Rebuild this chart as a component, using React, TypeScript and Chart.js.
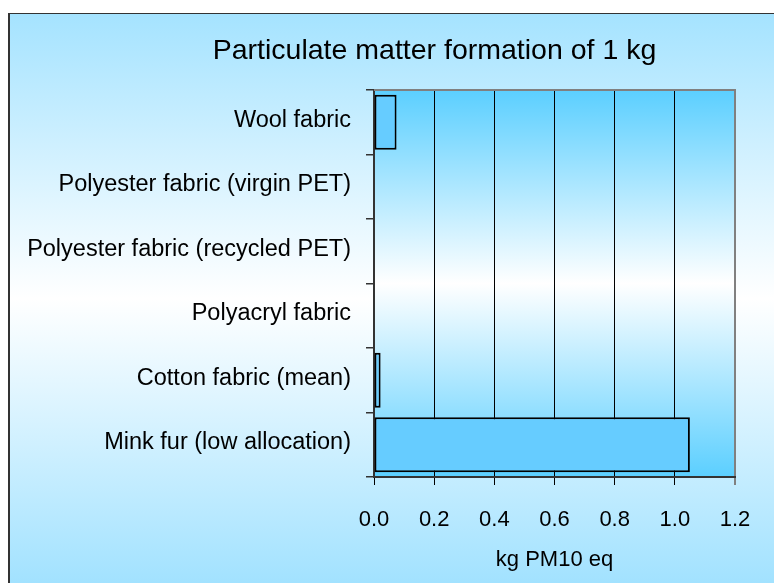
import React, { useEffect, useRef } from 'react';
import { Chart, registerables } from 'chart.js';

Chart.register(...registerables);

const chartTitle = 'Particulate matter formation of 1 kg';
const categories = [
  'Wool fabric',
  'Polyester fabric (virgin PET)',
  'Polyester fabric (recycled PET)',
  'Polyacryl fabric',
  'Cotton fabric (mean)',
  'Mink fur (low allocation)',
];
const values = [0.075, 0, 0, 0, 0.022, 1.05];
const xAxisTitle = 'kg PM10 eq';
const xMin = 0;
const xMax = 1.2;
const xStep = 0.2;

const FONT = "'Liberation Sans', Arial, sans-serif";

export default function App() {
  const ref = useRef<HTMLCanvasElement>(null);

  useEffect(() => {
    const canvas = ref.current;
    if (!canvas) return;

    const bgPlugin = {
      id: 'bgPlugin',
      beforeDraw(chart: any) {
        const { ctx, chartArea: a, width, height } = chart;
        ctx.save();
        // outer frame
        ctx.fillStyle = '#333333';
        ctx.fillRect(8, 13, width, height);
        const g = ctx.createLinearGradient(0, 14, 0, height);
        g.addColorStop(0, '#A5E3FF');
        g.addColorStop(0.5, '#FFFFFF');
        g.addColorStop(1, '#A2E2FF');
        ctx.fillStyle = g;
        ctx.fillRect(10, 14, width, height);
        // plot area
        const p = ctx.createLinearGradient(0, a.top, 0, a.bottom);
        p.addColorStop(0, '#5BCFFF');
        p.addColorStop(0.5, '#FFFFFF');
        p.addColorStop(1, '#5BCFFF');
        ctx.fillStyle = p;
        ctx.fillRect(a.left, a.top, a.right - a.left, a.bottom - a.top);
        ctx.restore();
      },
      afterDraw(chart: any) {
        const { ctx, chartArea: a } = chart;
        ctx.save();
        ctx.strokeStyle = '#808080';
        ctx.lineWidth = 2;
        ctx.beginPath();
        ctx.moveTo(a.left, a.top);
        ctx.lineTo(a.right + 1, a.top);
        ctx.stroke();
        ctx.fillStyle = '#000000';
        ctx.font = `28.5px ${FONT}`;
        ctx.textAlign = 'center';
        ctx.textBaseline = 'alphabetic';
        ctx.fillText(chartTitle, 434.5, 59);
        ctx.restore();
      },
    };

    const lastIdx = Math.round((xMax - xMin) / xStep);

    const chart = new Chart(canvas, {
      type: 'bar',
      data: {
        labels: categories,
        datasets: [
          {
            data: values,
            backgroundColor: '#66CCFF',
            borderColor: '#000000',
            borderWidth: 2,
            borderSkipped: false,
            barPercentage: 0.85,
            categoryPercentage: 1,
          },
        ],
      },
      options: {
        indexAxis: 'y',
        responsive: false,
        animation: false,
        devicePixelRatio: 1,
        layout: { padding: { top: 90, right: 39, left: 0, bottom: 0 } },
        plugins: {
          legend: { display: false },
          tooltip: { enabled: false },
          title: { display: false },
        },
        scales: {
          x: {
            type: 'linear',
            min: xMin,
            max: xMax,
            ticks: {
              stepSize: xStep,
              color: '#000000',
              font: { family: FONT, size: 22 },
              padding: 22,
              callback: (v: any) => Number(v).toFixed(1),
            },
            grid: {
              color: (c: any) => (c.index === lastIdx ? '#808080' : '#000000'),
              lineWidth: (c: any) => (c.index === lastIdx ? 2 : 1),
              tickLength: 8,
              drawTicks: true,
            },
            border: { color: '#333333', width: 2 },
            title: {
              display: true,
              text: xAxisTitle,
              color: '#000000',
              font: { family: FONT, size: 22 },
              padding: { top: 0, bottom: 10 },
            },
            afterFit: (s: any) => {
              s.height = 106;
            },
          },
          y: {
            type: 'category',
            grid: {
              drawOnChartArea: false,
              drawTicks: true,
              tickLength: 8,
              color: '#333333',
              lineWidth: 1.5,
              offset: true,
            },
            border: { color: '#333333', width: 2 },
            ticks: {
              color: '#000000',
              font: { family: FONT, size: 23.5 },
              padding: 15,
              labelOffset: -2,
              autoSkip: false,
            },
            afterFit: (s: any) => {
              s.width = 374;
            },
          },
        },
      },
      plugins: [bgPlugin],
    } as any);

    return () => chart.destroy();
  }, []);

  return (
    <div style={{ position: 'fixed', left: 0, top: 0, width: 774, height: 583 }}>
      <canvas ref={ref} width={774} height={583} style={{ display: 'block' }} />
    </div>
  );
}
